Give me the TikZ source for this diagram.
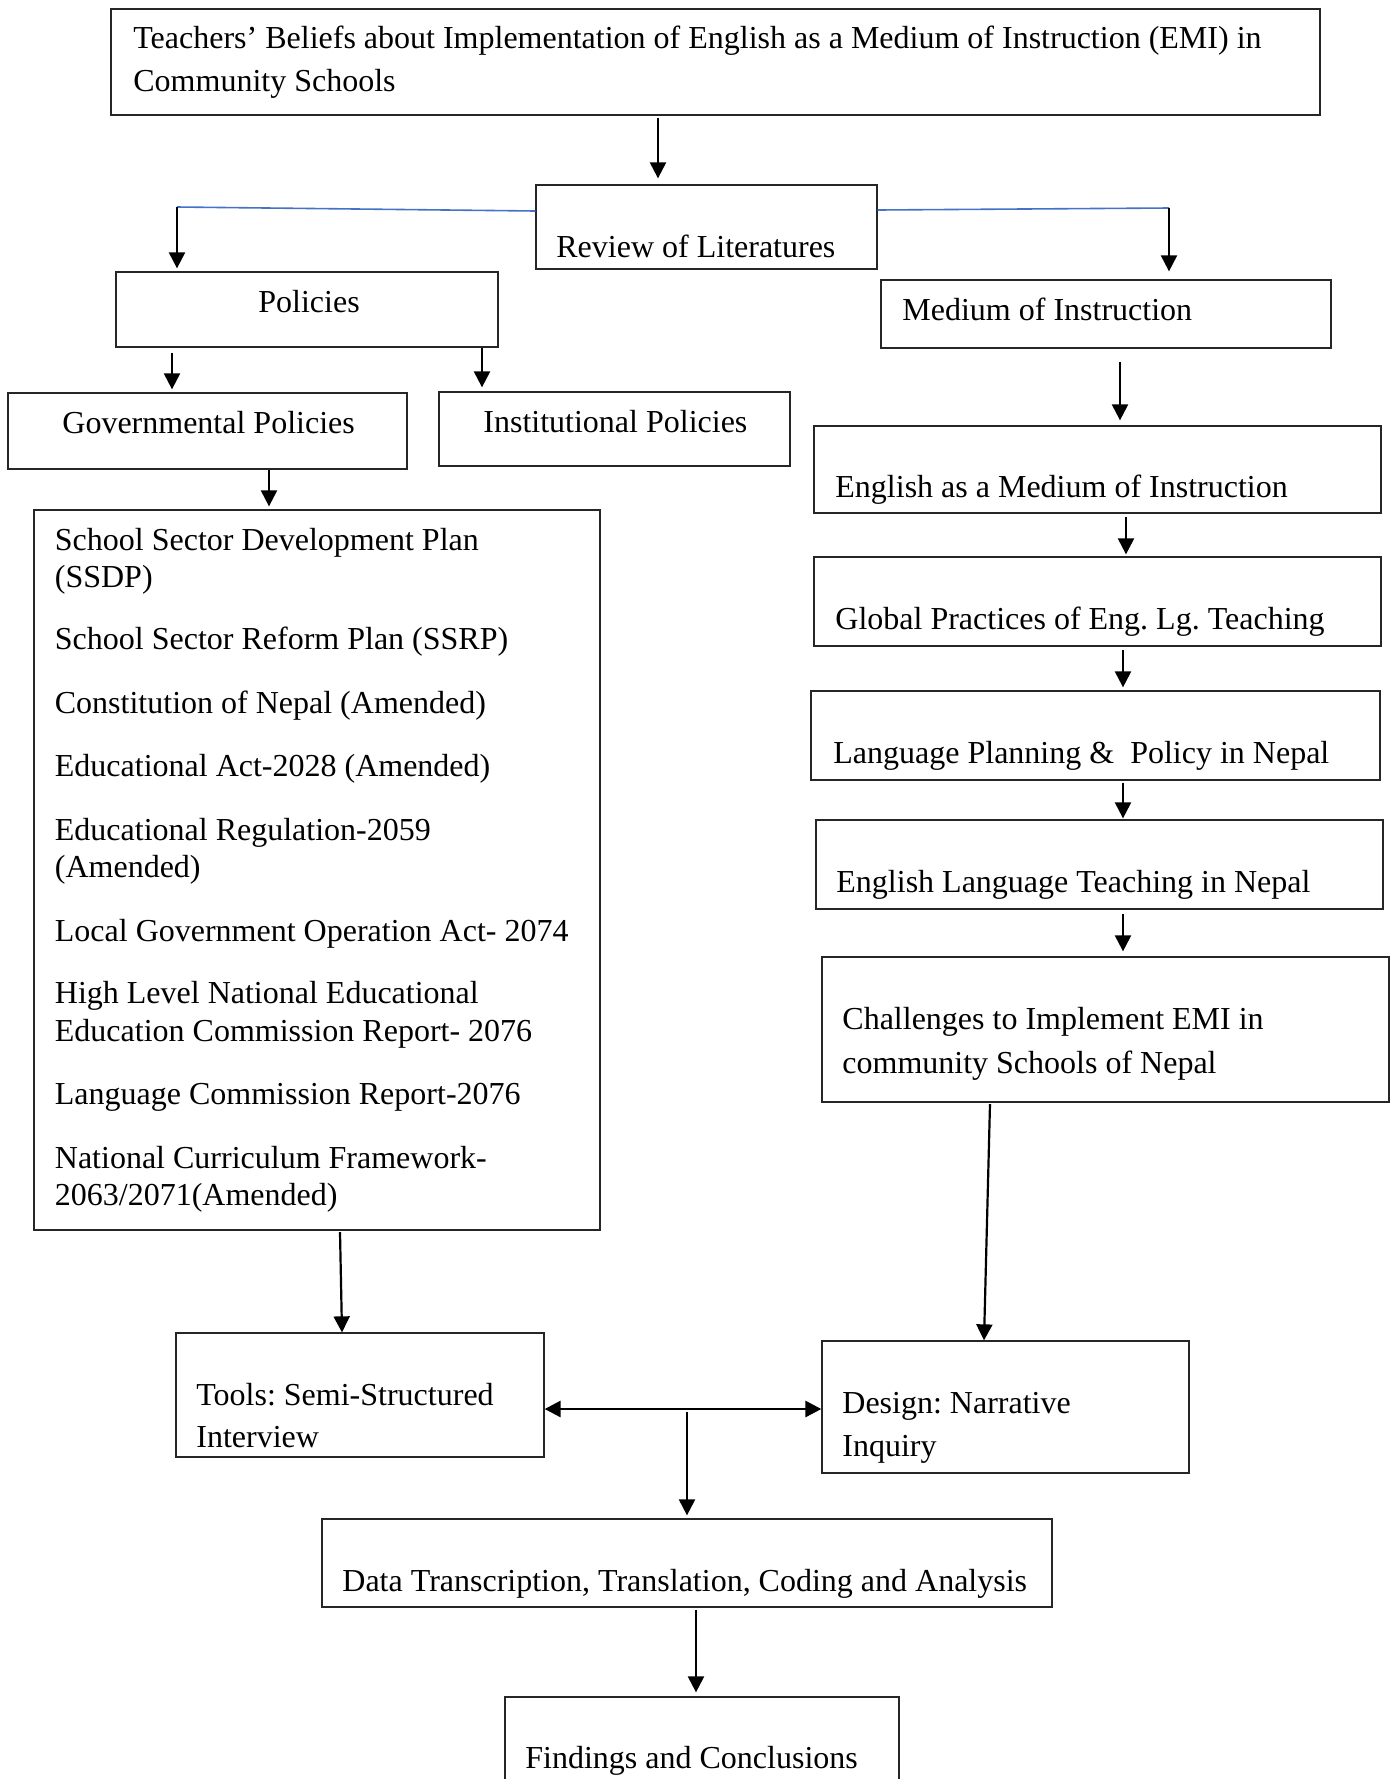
\documentclass[tikz,border=0pt]{standalone}
\usepackage{fontspec}
\setmainfont{Liberation Serif}
\usetikzlibrary{arrows.meta}
\definecolor{blueC}{RGB}{68,114,196}
\frenchspacing
\begin{document}
\begin{tikzpicture}[x=0.5pt,y=-0.5pt,
  box/.style={draw=black!85, line width=0.65pt, inner sep=0pt},
  txt/.style={anchor=base west, inner sep=0pt, font=\fontsize{16}{19}\selectfont\frenchspacing},
  arr/.style={-{Triangle[length=8pt,width=8pt]}, line width=1.1pt},
  dbl/.style={{Triangle[length=8pt,width=8pt]}-{Triangle[length=8pt,width=8pt]}, line width=1.4pt},
  blueline/.style={draw=blueC, line width=0.8pt}]
\useasboundingbox (0,0) rectangle (1397,1779);

% boxes
\node[box, minimum width=604.5pt, minimum height=53pt] (title) at (715.5,62) {};
\node[box, minimum width=170.5pt, minimum height=42pt] (review) at (706.5,227) {};
\node[box, minimum width=191pt, minimum height=37.5pt] (policies) at (307,309.5) {};
\node[box, minimum width=225pt, minimum height=34pt] (moi) at (1106,314) {};
\node[box, minimum width=199.5pt, minimum height=38pt] (gov) at (207.5,431) {};
\node[box, minimum width=175.5pt, minimum height=37pt] (inst) at (614.5,429) {};
\node[box, minimum width=283pt, minimum height=360pt] (list) at (317,870) {};
\node[box, minimum width=283.5pt, minimum height=43.5pt] (emi) at (1097.5,469.5) {};
\node[box, minimum width=283.5pt, minimum height=44.5pt] (global) at (1097.5,601.5) {};
\node[box, minimum width=284.5pt, minimum height=44.5pt] (lpp) at (1095.5,735.5) {};
\node[box, minimum width=283.5pt, minimum height=44.5pt] (elt) at (1099.5,864.5) {};
\node[box, minimum width=283.5pt, minimum height=72.5pt] (chal) at (1105.5,1029.5) {};
\node[box, minimum width=184pt, minimum height=62pt] (tools) at (360,1395) {};
\node[box, minimum width=183.5pt, minimum height=66pt] (design) at (1005.5,1407) {};
\node[box, minimum width=365pt, minimum height=44pt] (data) at (687,1563) {};
\node[box, minimum width=197pt, minimum height=51.5pt] (findings) at (702,1748.5) {};

% texts
\node[txt] (t1) at (133,48) {Teachers’ Beliefs about Implementation of English as a Medium of Instruction (EMI) in};
\node[txt] (t2) at (133,91) {Community Schools};
\node[txt] (t3) at (556,257) {Review of Literatures};
\node[txt] (t4) at (258,312) {Policies};
\node[txt] (t5) at (902,320) {Medium of Instruction};
\node[txt] (t6) at (62,433) {Governmental Policies};
\node[txt] (t7) at (483,432) {Institutional Policies};
\node[txt] (t8) at (54.5,550) {School Sector Development Plan};
\node[txt] (t9) at (54.5,587) {(SSDP)};
\node[txt] (t10) at (54.5,649) {School Sector Reform Plan (SSRP)};
\node[txt] (t11) at (54.5,713) {Constitution of Nepal (Amended)};
\node[txt] (t12) at (54.5,776) {Educational Act-2028 (Amended)};
\node[txt] (t13) at (54.5,840) {Educational Regulation-2059};
\node[txt] (t14) at (54.5,877.5) {(Amended)};
\node[txt] (t15) at (54.5,941) {Local Government Operation Act- 2074};
\node[txt] (t16) at (54.5,1003.5) {High Level National Educational};
\node[txt] (t17) at (54.5,1041) {Education Commission Report- 2076};
\node[txt] (t18) at (54.5,1104) {Language Commission Report-2076};
\node[txt] (t19) at (54.5,1168) {National Curriculum Framework-};
\node[txt] (t20) at (54.5,1205) {2063/2071(Amended)};
\node[txt] (t21) at (835,497) {English as a Medium of Instruction};
\node[txt] (t22) at (835,629) {Global Practices of Eng. Lg. Teaching};
\node[txt] (t23) at (833,763) {Language Planning \&\ \ Policy in Nepal};
\node[txt] (t24) at (836,892) {English Language Teaching in Nepal};
\node[txt] (t25) at (842,1029.5) {Challenges to Implement EMI in};
\node[txt] (t26) at (842,1073) {community Schools of Nepal};
\node[txt] (t27) at (196,1405) {Tools: Semi-Structured};
\node[txt] (t28) at (196,1447) {Interview};
\node[txt] (t29) at (842,1413) {Design: Narrative};
\node[txt] (t30) at (842,1456) {Inquiry};
\node[txt] (t31) at (342,1591) {Data Transcription, Translation, Coding and Analysis};
\node[txt] (t32) at (525,1768) {Findings and Conclusions};

% helper coordinates
\coordinate (ka) at (658,0);
\coordinate (bl) at (177,207);
\coordinate (br) at (1169,208);
\coordinate (kl) at (0,211);
\coordinate (kr) at (0,210);
\coordinate (kb) at (172,0);
\coordinate (kc) at (482,0);
\coordinate (kd) at (269,0);
\coordinate (ke) at (1120,0);
\coordinate (kf) at (1126,0);
\coordinate (kg) at (1123,0);
\coordinate (kh) at (990,1104);
\coordinate (ki) at (984,0);
\coordinate (kj) at (340,1232);
\coordinate (kk) at (342,0);
\coordinate (ky) at (0,1409);
\coordinate (km) at (687,1412);
\coordinate (kn) at (696,0);

% connectors
\draw[arr, shorten <=1pt, shorten >=3pt] (title.south -| ka) -- (review.north -| ka);
\draw[blueline] (review.west |- kl) -- (bl);
\draw[blueline] (review.east |- kr) -- (br);
\draw[arr, shorten >=1.5pt] (bl) -- (policies.north -| bl);
\draw[arr, shorten >=4pt] (br) -- (moi.north -| br);
\draw[arr, shorten <=2.5pt, shorten >=1.5pt] (policies.south -| kb) -- (gov.north -| kb);
\draw[arr, shorten >=2pt] (policies.south -| kc) -- (inst.north -| kc);
\draw[arr, shorten >=1.5pt] (gov.south -| kd) -- (list.north -| kd);
\draw[arr, shorten <=6.5pt, shorten >=2.5pt] (moi.south -| ke) -- (emi.north -| ke);
\draw[arr, shorten <=1.5pt, shorten >=1pt] (emi.south -| kf) -- (global.north -| kf);
\draw[arr, shorten <=1.5pt, shorten >=1.5pt] (global.south -| kg) -- (lpp.north -| kg);
\draw[arr, shorten <=1pt, shorten >=0.5pt] (lpp.south -| kg) -- (elt.north -| kg);
\draw[arr, shorten <=2pt, shorten >=2.5pt] (elt.south -| kg) -- (chal.north -| kg);
\draw[arr] (kh) -- (design.north -| ki);
\draw[arr] (kj) -- (tools.north -| kk);
\draw[dbl] (tools.east |- ky) -- (design.west |- ky);
\draw[arr, shorten >=1.5pt] (km) -- (data.north -| km);
\draw[arr, shorten <=1pt, shorten >=2pt] (data.south -| kn) -- (findings.north -| kn);
\end{tikzpicture}
\end{document}
